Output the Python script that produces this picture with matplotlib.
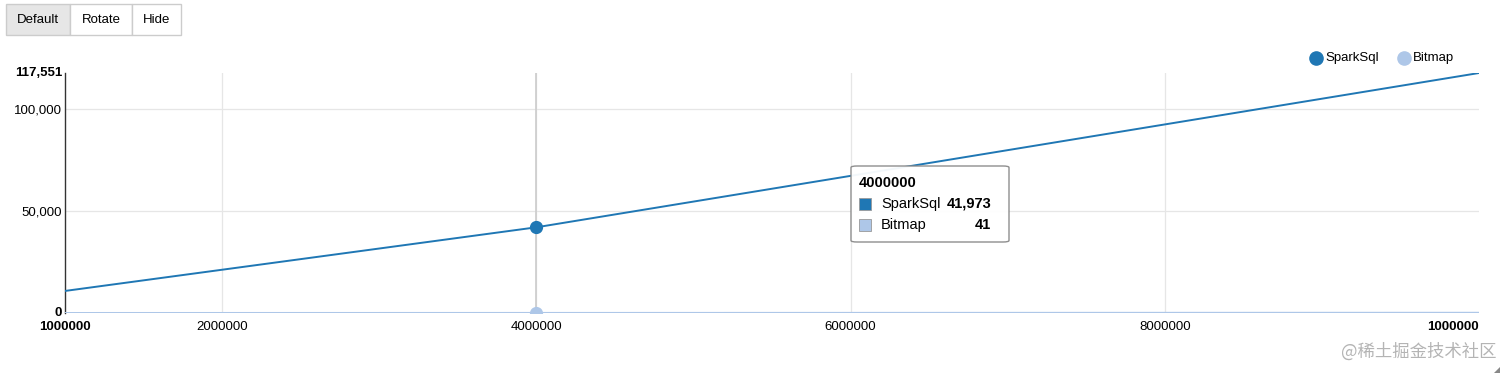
import matplotlib.pyplot as plt
from matplotlib.lines import Line2D
from matplotlib.patches import FancyBboxPatch, Rectangle, Polygon

plt.rcParams['font.family'] = ['Liberation Sans', 'DejaVu Sans']

sizes = [1000000, 4000000, 10000000]
spark_sql = [10800, 41973, 117551]
bitmap = [11, 41, 117]
series_names = ['SparkSql', 'Bitmap']
colors = ['#1f77b4', '#aec7e8']
x_ticks = [2000000, 4000000, 6000000, 8000000]
y_ticks = [0, 50000, 100000]
hover_idx = 1

fig = plt.figure(figsize=(15.12, 3.77), dpi=100)
ax = fig.add_axes([65 / 1512, 1 - 313 / 377, 1414 / 1512, 240 / 377])

ax.set_xlim(sizes[0], sizes[-1])
ax.set_ylim(0, max(spark_sql))

# grid
for xt in x_ticks:
    ax.axvline(xt, color='#e6e6e6', lw=0.9, zorder=0)
for yt in y_ticks[1:]:
    ax.axhline(yt, color='#e6e6e6', lw=0.9, zorder=0)
ax.axvline(sizes[hover_idx], color='#cccccc', lw=1.2, zorder=1)

ax.plot(sizes, spark_sql, color=colors[0], lw=1.4, zorder=3)
ax.plot(sizes, bitmap, color=colors[1], lw=1.4, zorder=3)
ax.plot(sizes[hover_idx], spark_sql[hover_idx], 'o', color=colors[0], ms=8.5, zorder=4)
ax.plot(sizes[hover_idx], bitmap[hover_idx], 'o', color=colors[1], ms=8.5, zorder=4)

for s in ['top', 'right', 'bottom']:
    ax.spines[s].set_visible(False)
ax.spines['left'].set_color('#333333')
ax.spines['left'].set_linewidth(1.0)

ax.set_xticks(x_ticks)
ax.set_xticklabels([str(v) for v in x_ticks])
ax.set_yticks(y_ticks[1:])
ax.set_yticklabels([f'{v:,}' for v in y_ticks[1:]])
ax.tick_params(axis='y', length=0, labelsize=9.5, pad=2)
ax.tick_params(axis='x', length=0, labelsize=9.5, pad=6)

# bold edge labels
ax.text(-0.002, 0, '0', transform=ax.transAxes, ha='right', va='center',
        fontsize=9.5, fontweight='bold')
ax.text(-0.002, 1, f'{max(spark_sql):,}', transform=ax.transAxes, ha='right',
        va='center', fontsize=9.5, fontweight='bold')
ax.text(0, -0.035, str(sizes[0]), transform=ax.transAxes, ha='center', va='top',
        fontsize=9.5, fontweight='bold')
ax.text(1, -0.035, str(sizes[0]), transform=ax.transAxes, ha='right', va='top',
        fontsize=9.5, fontweight='bold')

# tooltip
tip = FancyBboxPatch((851 / 1512, 1 - 242 / 377), 158 / 1512, 76 / 377,
                     boxstyle='round,pad=0,rounding_size=0.004',
                     transform=fig.transFigure, fc='white', ec='#888888', lw=1.0,
                     zorder=10, alpha=0.95)
fig.patches.append(tip)
fig.text(859 / 1512, 1 - 183 / 377, str(sizes[hover_idx]), fontsize=10.5,
         fontweight='bold', va='center', zorder=11)
for i, (name, vals) in enumerate(zip(series_names, [spark_sql, bitmap])):
    yc = 1 - (204 + i * 21) / 377
    fig.patches.append(Rectangle((859 / 1512, yc - 6 / 377), 12 / 1512, 12 / 377,
                                 transform=fig.transFigure, fc=colors[i],
                                 ec='#999999', lw=0.6, zorder=11))
    fig.text(881 / 1512, yc, name, fontsize=10.5, va='center', zorder=11)
    fig.text(991 / 1512, yc, f'{vals[hover_idx]:,}', fontsize=10.5,
             fontweight='bold', va='center', ha='right', zorder=11)

# legend
for i, (name, lx) in enumerate(zip(series_names, [1316, 1404])):
    fig.add_artist(Line2D([lx / 1512], [1 - 58 / 377], marker='o', ms=9.5,
                          color=colors[i], transform=fig.transFigure))
    fig.text((lx + 9) / 1512, 1 - 58 / 377, name, fontsize=9.5, va='center')

# buttons
buttons = [('Default', 6, 70), ('Rotate', 70, 132), ('Hide', 132, 181)]
for label, x0, x1 in buttons:
    fc = '#e6e6e6' if label == 'Default' else 'white'
    fig.patches.append(Rectangle((x0 / 1512, 1 - 35 / 377), (x1 - x0) / 1512, 31 / 377,
                                 transform=fig.transFigure, fc=fc, ec='#cccccc', lw=1.0))
    fig.text((x0 + x1) / 2 / 1512, 1 - 20 / 377, label, fontsize=9.5,
             ha='center', va='center')

# watermark and resize handle
fig.text(1497 / 1512, 1 - 352 / 377, '@稀土掘金技术社区', fontsize=12.5,
         color='#b4b4b4', ha='right', va='center',
         family=['Noto Sans CJK SC', 'DejaVu Sans'])
fig.patches.append(Polygon([(1500 / 1512, 1 - 367 / 377), (1500 / 1512, 1 - 373 / 377),
                            (1494 / 1512, 1 - 373 / 377)], closed=True,
                           transform=fig.transFigure, fc='#888888', ec='none'))

fig.savefig('out.png', dpi=100)
